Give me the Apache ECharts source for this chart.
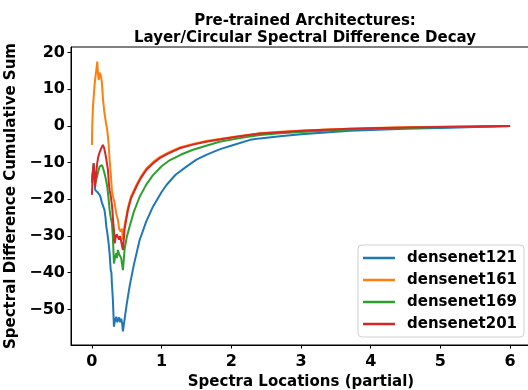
<!DOCTYPE html>
<html>
<head>
<meta charset="utf-8">
<script src="https://cdn.jsdelivr.net/npm/echarts@6/dist/echarts.min.js"></script>
<style>html,body{margin:0;padding:0;background:#fff;}#c{width:528px;height:390px;}</style>
</head>
<body>
<div id="c"></div>
<script>
const seriesNames = ['densenet121', 'densenet161', 'densenet169', 'densenet201'];
const colors = ['#1f77b4', '#ff7f0e', '#2ca02c', '#d62728'];
const xTicks = [0, 1, 2, 3, 4, 5, 6];
const yTicks = [-50, -40, -30, -20, -10, 0, 10, 20];

const x121 = [0, 0.01, 0.02, 0.025, 0.035, 0.048, 0.06, 0.077, 0.09, 0.11, 0.125, 0.144, 0.16, 0.18, 0.195, 0.207, 0.22, 0.24, 0.255, 0.27, 0.28, 0.287, 0.3, 0.316, 0.33, 0.35, 0.36, 0.374, 0.39, 0.405, 0.42, 0.435, 0.445, 0.47, 0.5, 0.54, 0.6, 0.685, 0.78, 0.876, 1.0, 1.07, 1.2, 1.356, 1.5, 1.64, 1.83, 2.03, 2.27, 2.41, 2.7, 3.0, 3.35, 3.7, 4.0, 4.5, 5.14, 5.5, 6.0];
const y121 = [-15.1, -13, -11, -10.2, -14, -17.5, -17.8, -18, -18.2, -18.8, -19.5, -21, -21.8, -22.9, -25, -27.5, -29, -32, -35, -39.3, -40, -43, -47, -54.7, -53, -52, -53.5, -53, -52.2, -53.5, -52.5, -54, -56, -52.5, -48.5, -43.8, -38, -31.1, -26, -22, -18, -16.1, -13.3, -11.1, -9.2, -7.9, -6.4, -5.2, -3.8, -3.4, -2.8, -2.3, -1.8, -1.35, -1.1, -0.8, -0.5, -0.3, 0];

const x161 = [0, 0.005, 0.015, 0.03, 0.04, 0.055, 0.068, 0.077, 0.085, 0.097, 0.11, 0.125, 0.135, 0.144, 0.16, 0.18, 0.2, 0.22, 0.24, 0.254, 0.27, 0.287, 0.3, 0.326, 0.35, 0.374, 0.39, 0.412, 0.43, 0.445, 0.47, 0.517, 0.56, 0.638, 0.7, 0.78, 0.88, 0.973, 1.1, 1.26, 1.45, 1.64, 1.9, 2.1, 2.41, 2.7, 3.0, 3.35, 3.7, 4.0, 4.5, 5.14, 5.5, 6.0];
const y161 = [-5.2, 0, 5.3, 9, 11.6, 14, 16, 17.5, 15, 12.5, 14.5, 13.9, 13, 11.6, 7, 3.5, 1, -1.1, -5, -9.3, -13, -17.5, -19, -21, -24, -25.6, -28, -28.8, -28, -31, -27, -22.3, -19.3, -16.1, -13.9, -11.6, -9.8, -8.5, -7.2, -5.85, -4.9, -4.1, -3.35, -2.8, -2.0, -1.6, -1.3, -1.0, -0.75, -0.6, -0.4, -0.22, -0.12, 0];

const x169 = [0, 0.01, 0.025, 0.035, 0.05, 0.065, 0.077, 0.09, 0.11, 0.125, 0.144, 0.16, 0.18, 0.2, 0.22, 0.24, 0.254, 0.27, 0.287, 0.3, 0.316, 0.33, 0.35, 0.36, 0.374, 0.39, 0.405, 0.42, 0.435, 0.445, 0.47, 0.5, 0.54, 0.6, 0.685, 0.78, 0.876, 1.0, 1.12, 1.28, 1.45, 1.64, 1.83, 2.1, 2.41, 2.7, 3.0, 3.35, 3.7, 4.0, 4.5, 5.14, 5.5, 6.0];
const y169 = [-15.6, -13, -11.1, -13.5, -15.6, -14.5, -14.2, -12.5, -11.1, -10.8, -10.7, -11.5, -12.9, -14.5, -16.5, -20, -22.9, -25, -26.5, -30, -37.5, -36, -34.7, -36, -33.8, -35, -34.5, -36, -36.5, -39.3, -33.5, -30.3, -27.5, -23.5, -19.3, -16, -13.4, -11, -9.3, -7.8, -6.5, -5.4, -4.3, -3.4, -2.5, -2.0, -1.65, -1.3, -1.0, -0.8, -0.55, -0.33, -0.2, 0];

const x201 = [0, 0.01, 0.025, 0.035, 0.048, 0.06, 0.077, 0.09, 0.11, 0.125, 0.14, 0.158, 0.175, 0.192, 0.21, 0.23, 0.245, 0.254, 0.27, 0.29, 0.305, 0.316, 0.326, 0.34, 0.355, 0.374, 0.39, 0.405, 0.42, 0.435, 0.445, 0.47, 0.517, 0.56, 0.638, 0.7, 0.78, 0.88, 0.973, 1.1, 1.26, 1.45, 1.64, 1.9, 2.1, 2.41, 2.7, 3.0, 3.35, 3.7, 4.0, 4.5, 5.14, 5.5, 6.0];
const y201 = [-18.8, -14, -10.2, -13, -16.5, -13, -10.1, -8.5, -7.2, -6.5, -5.8, -5.2, -6, -7.5, -9.5, -12, -16, -17.5, -19, -22, -26, -28.4, -32, -30.5, -29.5, -29.7, -31, -30, -31.5, -32, -33.8, -28, -22.9, -19.8, -16.6, -14.3, -12, -10.2, -8.8, -7.5, -6.1, -5.1, -4.3, -3.5, -2.9, -2.1, -1.7, -1.35, -1.05, -0.8, -0.65, -0.45, -0.25, -0.15, 0];

const xsAll = [x121, x161, x169, x201];
const ysAll = [y121, y161, y169, y201];

const FONT = 'DejaVu Sans';
const chart = echarts.init(document.getElementById('c'), null, {renderer: 'canvas'});
const series = seriesNames.map((name, i) => ({
  name: name,
  type: 'line',
  symbol: 'none',
  showSymbol: false,
  animation: false,
  lineStyle: {width: 2, color: colors[i]},
  itemStyle: {color: colors[i]},
  data: xsAll[i].map((x, j) => [x, ysAll[i][j]])
}));

chart.setOption({
  animation: false,
  backgroundColor: '#fff',
  title: {
    text: 'Pre-trained Architectures:\nLayer/Circular Spectral Difference Decay',
    left: 300, top: 8, textAlign: 'center',
    textStyle: {fontFamily: FONT, fontWeight: 'bold', fontSize: 15, color: '#000', lineHeight: 17}
  },
  grid: {left: 71, right: -3, top: 47, bottom: 45, outerBoundsMode: 'none', containLabel: false,
    show: true, borderColor: '#000', borderWidth: 1, backgroundColor: 'transparent'},
  legend: {
    orient: 'vertical', left: 358, top: 245,
    data: seriesNames,
    icon: 'rect', itemWidth: 32, itemHeight: 2.5, itemGap: 4,
    padding: [4, 7, 4, 5],
    borderColor: '#d0d0d0', borderWidth: 1, borderRadius: 4,
    backgroundColor: 'rgba(255,255,255,0.8)',
    textStyle: {fontFamily: FONT, fontWeight: 'bold', fontSize: 15, color: '#000', lineHeight: 18, padding: [0, 0, 0, 7]}
  },
  xAxis: {
    type: 'value', min: -0.3, max: 6.3,
    name: 'Spectra Locations (partial)', nameLocation: 'middle', nameGap: 30,
    nameTextStyle: {fontFamily: FONT, fontWeight: 'bold', fontSize: 15, color: '#000'},
    axisLine: {show: true, onZero: false, lineStyle: {color: '#000', width: 1}},
    axisTick: {show: true, inside: false, length: 3.5, lineStyle: {color: '#000'}, customValues: xTicks},
    axisLabel: {fontFamily: FONT, fontWeight: 'bold', fontSize: 16, color: '#000', margin: 9, customValues: xTicks},
    splitLine: {show: false}
  },
  yAxis: {
    type: 'value', min: -59.7, max: 21.5,
    name: 'Spectral Difference Cumulative Sum', nameLocation: 'middle', nameGap: 45,
    nameTextStyle: {fontFamily: FONT, fontWeight: 'bold', fontSize: 15, color: '#000'},
    axisLine: {show: true, onZero: false, lineStyle: {color: '#000', width: 1}},
    axisTick: {show: true, inside: false, length: 3.5, lineStyle: {color: '#000'}, customValues: yTicks},
    axisLabel: {fontFamily: FONT, fontWeight: 'bold', fontSize: 16, color: '#000', margin: 6,
      customValues: yTicks, formatter: v => (v < 0 ? '\u2212' + Math.abs(v) : String(v))},
    splitLine: {show: false}
  },
  series: series
});
</script>
</body>
</html>
